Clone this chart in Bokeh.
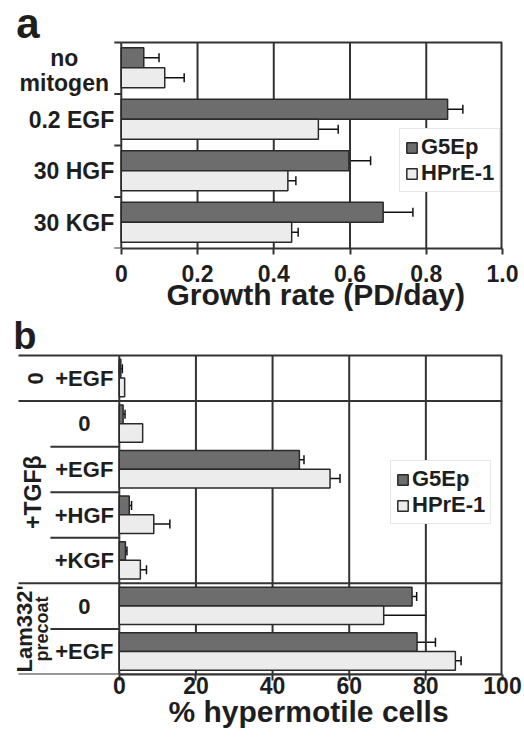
import math
from bokeh.plotting import figure
from bokeh.models import (ColumnDataSource, Range1d, FixedTicker, Label, Legend,
                          LegendItem, Whisker, TeeHead, Title)
from bokeh.layouts import column
from bokeh.embed import file_html
from bokeh.resources import INLINE

# ---------------- data: panel a ----------------
a_categories = ["no\nmitogen", "0.2 EGF", "30 HGF", "30 KGF"]
a_g5ep = [0.059, 0.856, 0.597, 0.687]
a_g5ep_err = [0.040, 0.040, 0.057, 0.078]
a_hpre = [0.114, 0.517, 0.437, 0.447]
a_hpre_err = [0.051, 0.052, 0.021, 0.017]
a_ticks = [0, 0.2, 0.4, 0.6, 0.8, 1.0]
a_tick_labels = ["0", "0.2", "0.4", "0.6", "0.8", "1.0"]
a_xlabel = "Growth rate (PD/day)"

# ---------------- data: panel b ----------------
b_rows = ["+EGF", "0", "+EGF", "+HGF", "+KGF", "0", "+EGF"]
b_g5ep = [0.4, 1.0, 47.0, 2.6, 1.6, 76.4, 77.7]
b_g5ep_err = [0.4, 0.5, 1.2, 0.6, 0.4, 1.2, 4.8]
b_hpre = [1.4, 6.1, 55.0, 9.0, 5.5, 69.0, 87.7]
b_hpre_err = [0.0, 0.0, 2.6, 4.2, 1.6, 11.0, 1.5]
b_ticks = [0, 20, 40, 60, 80, 100]
b_tick_labels = ["0", "20", "40", "60", "80", "100"]
b_xlabel = "% hypermotile cells"
b_group_names = ["0", "+TGFβ", "Lam332'", "precoat"]
b_group_first_row = [0, 1, 5, 5]
b_group_last_row = [0, 4, 6, 6]
b_major_bounds = [0, 1, 5, 7]     # row boundaries (from top) between groups
b_minor_bounds = [2, 3, 4, 6]     # row boundaries inside groups

series_names = ["G5Ep", "HPrE-1"]
series_colors = ["#6d6d6d", "#ececec"]

FONT = "Liberation Sans"
TXT = "#1e1e1e"
LINE = "#333333"


def style_xaxis(p, ticks, tick_labels, xlabel, title_left, label_standoff, title_standoff):
    p.outline_line_color = None
    p.xgrid.visible = False
    p.ygrid.visible = False
    p.yaxis.visible = False
    ax = p.xaxis[0]
    ax.bounds = (ticks[0], ticks[-1])
    ax.ticker = FixedTicker(ticks=ticks)
    ax.major_label_overrides = {t: l for t, l in zip(ticks, tick_labels)}
    ax.major_label_text_font = FONT
    ax.major_label_text_font_style = "bold"
    ax.major_label_text_font_size = "23px"
    ax.major_label_text_color = TXT
    ax.major_label_standoff = label_standoff
    ax.axis_label_standoff = 0
    ax.major_tick_out = 6
    ax.major_tick_in = 0
    ax.minor_tick_out = 0
    ax.major_tick_line_width = 2
    ax.major_tick_line_color = LINE
    ax.axis_line_width = 2
    ax.axis_line_color = LINE
    # axis title placed over the 0..max span (not the whole frame)
    p.add_layout(Title(text=xlabel, align="left", offset=title_left,
                       standoff=title_standoff, vertical_align="middle",
                       text_font=FONT, text_font_style="bold", text_font_size="30px",
                       text_color=TXT), "below")


def add_lines(p, x0, y0, x1, y1, width=2):
    p.segment(x0=x0, y0=y0, x1=x1, y1=y1, line_color=LINE, line_width=width)


def add_bars(p, n, g_vals, g_err, h_vals, h_err, g_off, h_off, hgt, legend_loc):
    tops = [n - i for i in range(n)]
    renderers = []
    for vals, errs, off, col in ((g_vals, g_err, g_off, series_colors[0]),
                                 (h_vals, h_err, h_off, series_colors[1])):
        src = ColumnDataSource(dict(y=[t - off for t in tops], v=vals))
        r = p.hbar(y="y", right="v", left=0, height=hgt, source=src,
                   fill_color=col, line_color="#2a2a2a", line_width=1.5)
        renderers.append(r)
        keep = [k for k in range(n) if errs[k] > 0]
        esrc = ColumnDataSource(dict(
            y=[tops[k] - off for k in keep],
            lo=[vals[k] - errs[k] for k in keep],
            hi=[vals[k] + errs[k] for k in keep]))
        w = Whisker(source=esrc, base="y", lower="lo", upper="hi", dimension="width",
                    line_color="#111111", line_width=1.5,
                    upper_head=TeeHead(size=9, line_color="#111111", line_width=1.5),
                    lower_head=TeeHead(size=9, line_color="#111111", line_width=1.5))
        p.add_layout(w)
    legend = Legend(items=[LegendItem(label=series_names[k], renderers=[renderers[k]])
                           for k in range(2)],
                    location=legend_loc, glyph_width=13, glyph_height=13,
                    label_text_font=FONT, label_text_font_style="bold",
                    label_text_font_size="22px", label_text_color=TXT,
                    label_standoff=3, spacing=0, padding=5, margin=0,
                    label_height=22,
                    border_line_color="#cfcfcf", border_line_width=1.5,
                    background_fill_alpha=1.0)
    p.add_layout(legend)


# ================= panel a =================
A_W, A_H = 524, 313
A_FL, A_FR, A_FT, A_FB = 12, 502, 0, 248     # frame edges (pixels)
A_X0 = 120                                    # pixel of x = 0
A_YT = 42                                     # pixel of top of the plot box
na = len(a_categories)
a_xmax = a_ticks[-1]
a_pxx = (A_FR - A_X0) / a_xmax
a_pxy = (A_FB - A_YT) / na
pa = figure(width=A_W, height=A_H, output_backend="svg", toolbar_location=None,
            x_range=Range1d(-(A_X0 - A_FL) / a_pxx, a_xmax),
            y_range=Range1d(0, na + (A_YT - A_FT) / a_pxy),
            min_border_left=A_FL, min_border_right=A_W - A_FR,
            min_border_top=A_FT, min_border_bottom=A_H - A_FB)
style_xaxis(pa, a_ticks, a_tick_labels, a_xlabel, 165 - A_FL, 10, -15)
add_lines(pa, a_ticks[:-1], [0] * (len(a_ticks) - 1), a_ticks[:-1], [na] * (len(a_ticks) - 1))
add_lines(pa, [a_xmax], [0], [a_xmax], [na], width=4)
add_lines(pa, [0], [na], [a_xmax], [na])
add_lines(pa, [-7 / a_pxx] * (na + 1), list(range(na + 1)), [0] * (na + 1), list(range(na + 1)))
add_bars(pa, na, a_g5ep, a_g5ep_err, a_hpre, a_hpre_err, 0.295, 0.685, 0.39,
         (398 - A_FL, A_FB - 192))
for i, cat in enumerate(a_categories):
    multi = "\n" in cat
    pa.add_layout(Label(x=0, y=na - i - 0.5 - (0.04 if multi else 0.0),
                        x_offset=-57 if multi else -7,
                        text=cat, text_align="center" if multi else "right",
                        text_baseline="middle", text_font=FONT,
                        text_font_style="bold", text_font_size="23px",
                        text_color=TXT, text_line_height=0.95))
pa.add_layout(Label(x=0, y=na, x_offset=-105, y_offset=19, text="a",
                    text_font=FONT, text_font_style="bold", text_font_size="42px",
                    text_color=TXT, text_baseline="middle"))

# ================= panel b =================
B_W, B_H = 524, 432
B_FL, B_FR, B_FT, B_FB = 13, 503, 0, 361
B_X0 = 119
B_YT = 42
B_LINE_L = 18        # left end of group separator lines
B_SUB_L = 50         # left end of sub-row separator lines
B_LABEL_C = 84       # centre of row labels
nb = len(b_rows)
b_xmax = b_ticks[-1]
b_pxx = (B_FR - B_X0) / b_xmax
b_pxy = (B_FB - B_YT) / nb
pb = figure(width=B_W, height=B_H, output_backend="svg", toolbar_location=None,
            x_range=Range1d(-(B_X0 - B_FL) / b_pxx, b_xmax),
            y_range=Range1d(0, nb + (B_YT - B_FT) / b_pxy),
            min_border_left=B_FL, min_border_right=B_W - B_FR,
            min_border_top=B_FT, min_border_bottom=B_H - B_FB)
style_xaxis(pb, b_ticks, b_tick_labels, b_xlabel, 168 - B_FL, -4, -5)
add_lines(pb, b_ticks[:-1], [0] * (len(b_ticks) - 1), b_ticks[:-1], [nb] * (len(b_ticks) - 1))
add_lines(pb, [b_xmax], [0], [b_xmax], [nb], width=4)
gl = -(B_X0 - B_LINE_L) / b_pxx
sl = -(B_X0 - B_SUB_L) / b_pxx
add_lines(pb, [gl] * len(b_major_bounds), [nb - k for k in b_major_bounds],
          [b_xmax] * len(b_major_bounds), [nb - k for k in b_major_bounds])
add_lines(pb, [sl] * len(b_minor_bounds), [nb - k for k in b_minor_bounds],
          [0] * len(b_minor_bounds), [nb - k for k in b_minor_bounds])
add_bars(pb, nb, b_g5ep, b_g5ep_err, b_hpre, b_hpre_err, 0.29, 0.70, 0.41,
         (390 - B_FL, B_FB - (524 - 313)))
for i, row in enumerate(b_rows):
    pb.add_layout(Label(x=0, y=nb - i - 0.5, x_offset=B_LABEL_C - B_X0, text=row,
                        text_align="center", text_baseline="middle",
                        text_font=FONT, text_font_style="bold",
                        text_font_size="22px", text_color=TXT))
group_x = [35, 33, 24, 42]
group_size = ["22px", "23px", "22px", "18px"]
for name, f, l, gx, gs in zip(b_group_names, b_group_first_row, b_group_last_row,
                              group_x, group_size):
    yc = nb - (f + l + 1) / 2
    pb.add_layout(Label(x=0, y=yc, x_offset=gx - B_X0, text=name, angle=math.pi / 2,
                        text_align="center", text_baseline="middle",
                        text_font=FONT, text_font_style="bold",
                        text_font_size=gs, text_color=TXT))
pb.add_layout(Label(x=0, y=nb, x_offset=13 - B_X0, y_offset=20, text="b",
                    text_font=FONT, text_font_style="bold", text_font_size="38px",
                    text_color=TXT, text_baseline="middle"))

layout = column(pa, pb, spacing=0)
open("out.html", "w").write(file_html(layout, INLINE))
